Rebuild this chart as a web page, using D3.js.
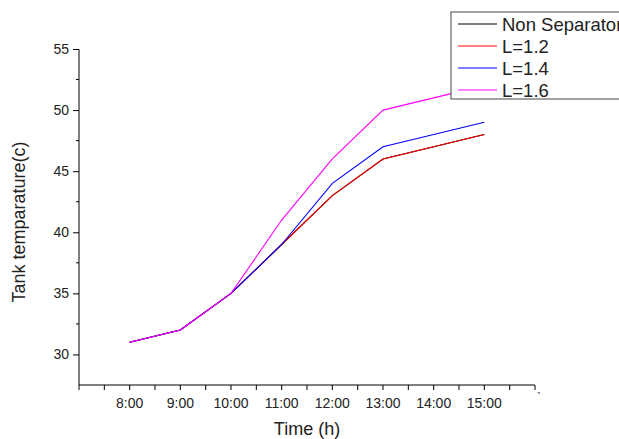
<!DOCTYPE html>
<html><head><meta charset="utf-8">
<script src="https://cdn.jsdelivr.net/npm/d3@7"></script>
<style>body{margin:0;background:#fff;} svg{display:block;font-family:Arial,"Liberation Sans",sans-serif;}</style>
</head><body>
<svg id="c" width="619" height="439"></svg>
<script>
const hours = [8, 9, 10, 11, 12, 13, 14, 15];
const tickLabels = ["8:00","9:00","10:00","11:00","12:00","13:00","14:00","15:00"];
const nonSeparator = [31, 32, 35, 39, 43, 46, 47, 48];
const l12 = [31, 32, 35, 39, 43, 46, 47, 48];
const l14 = [31, 32, 35, 39, 44, 47, 48, 49];
const l16 = [31, 32, 35, 41, 46, 50, 51, 52];
const seriesNames = ["Non Separator", "L=1.2", "L=1.4", "L=1.6"];
const seriesColors = ["#000000", "#ff0000", "#0000ff", "#ff00ff"];
const seriesData = [nonSeparator, l12, l14, l16];
const yMajor = [30, 35, 40, 45, 50, 55];

const svg = d3.select("#c");
const x = d3.scaleLinear().domain([7, 16]).range([79, 535]);
const y = d3.scaleLinear().domain([27.5, 55]).range([385, 49]);

// Y axis
const yAxis = d3.axisLeft(y).tickValues(yMajor).tickSize(6).tickPadding(4).tickFormat(d3.format("d"));
const gy = svg.append("g").attr("transform", "translate(79,0)").call(yAxis);
gy.select(".domain").attr("d", `M0,${y(55)}V${y(27.5)}`).attr("stroke","#000");
gy.selectAll(".tick line").attr("stroke","#000");
gy.selectAll(".tick text").attr("font-size", 14).attr("fill","#222").style("font-family","Arial,'Liberation Sans',sans-serif");
const yMinor = d3.range(32.5, 55, 5);
svg.append("g").selectAll("line").data(yMinor).join("line")
  .attr("x1", 79).attr("x2", 76).attr("y1", d => y(d)).attr("y2", d => y(d)).attr("stroke","#000");

// X axis
const xTicks = d3.range(7, 16.01, 0.5);
const gx = svg.append("g").attr("transform", `translate(0,${y(27.5)})`);
gx.append("line").attr("x1", 79).attr("x2", 535).attr("y1", 0).attr("y2", 0).attr("stroke","#000");
gx.selectAll("line.t").data(xTicks).join("line").attr("class","t")
  .attr("x1", d => x(d)).attr("x2", d => x(d)).attr("y1", 0).attr("y2", 5).attr("stroke","#000");
gx.selectAll("text").data(hours).join("text")
  .attr("x", d => x(d)).attr("y", 23).attr("text-anchor","middle")
  .attr("font-size", 14).attr("fill","#222").text((d,i) => tickLabels[i]);
gx.append("text").attr("x", x(16) + 2).attr("y", 17).attr("font-size", 12).attr("fill","#222").text("`");

// Axis titles
svg.append("text").attr("x", 307).attr("y", 434.5).attr("text-anchor","middle")
  .attr("font-size", 18).attr("fill","#222").text("Time (h)");
svg.append("text").attr("transform", "translate(25,222) rotate(-90)").attr("text-anchor","middle")
  .attr("font-size", 18).attr("fill","#222").text("Tank temparature(c)");

// Lines
const line = d3.line().x((d,i) => x(hours[i])).y(d => y(d));
seriesData.forEach((s, k) => {
  svg.append("path").datum(s).attr("d", line).attr("fill","none")
    .attr("stroke", seriesColors[k]).attr("stroke-width", 1.1);
});

// Legend
const lg = svg.append("g").attr("transform", "translate(451,12)");
lg.append("rect").attr("x", 0).attr("y", 0).attr("width", 200).attr("height", 87)
  .attr("fill","#fff").attr("stroke","#444").attr("stroke-width", 1);
seriesNames.forEach((n, k) => {
  const yy = 12 + k * 22;
  lg.append("line").attr("x1", 7).attr("x2", 46).attr("y1", yy).attr("y2", yy)
    .attr("stroke", seriesColors[k]).attr("stroke-width", 1);
  lg.append("text").attr("x", 51).attr("y", yy + 6.5).attr("font-size", 18.5).attr("fill","#222").text(n);
});
</script>
</body></html>
